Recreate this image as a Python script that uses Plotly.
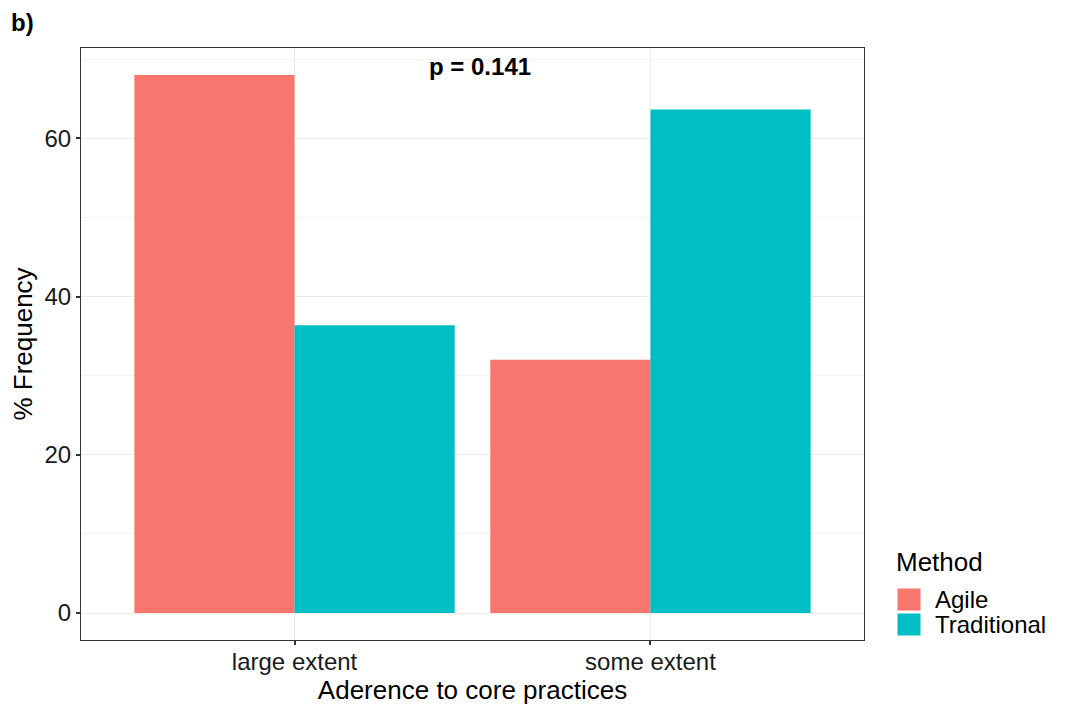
import plotly.graph_objects as go

# Share of respondents (%) per adherence level, by development method
categories = ["large extent", "some extent"]
methods = ["Agile", "Traditional"]
agile_pct = [68.0, 32.0]
traditional_pct = [36.36, 63.64]
colors = {"Agile": "#F8766D", "Traditional": "#00BFC4"}
p_label = "p = 0.141"
y_ticks = [0, 20, 40, 60]

FONT = "Liberation Sans, Arial, sans-serif"

fig = go.Figure()
for name, vals in zip(methods, [agile_pct, traditional_pct]):
    fig.add_trace(go.Bar(
        x=categories, y=vals, name=name,
        marker=dict(color=colors[name], line=dict(width=0)),
        showlegend=False,
    ))

ymax = max(agile_pct + traditional_pct)
pad = 0.05 * ymax

fig.update_layout(
    width=1065, height=706,
    margin=dict(l=81, r=201, t=48, b=66, autoexpand=False),
    paper_bgcolor="white", plot_bgcolor="white",
    barmode="group", bargap=0.1, bargroupgap=0,
    font=dict(family=FONT, color="black"),
    xaxis=dict(
        range=[-0.6, 1.6], automargin=False,
        showgrid=True, gridcolor="#EBEBEB", gridwidth=1,
        ticks="outside", ticklen=4, tickwidth=2, tickcolor="#333333",
        tickfont=dict(size=24, color="#1a1a1a"), ticklabelstandoff=-4,
        title=dict(text="Aderence to core practices", font=dict(size=26), standoff=4),
        showline=True, linecolor="#333333", linewidth=1, mirror=True,
        zeroline=False,
    ),
    yaxis=dict(
        range=[-pad, ymax + pad], automargin=False,
        tickvals=y_ticks,
        showgrid=True, gridcolor="#EBEBEB", gridwidth=1,
        minor=dict(tickvals=[10, 30, 50, 70], showgrid=True, gridcolor="#F4F4F4", gridwidth=1),
        ticks="outside", ticklen=4, tickwidth=2, tickcolor="#333333",
        tickfont=dict(size=24, color="#1a1a1a"),
        title=dict(text="% Frequency", font=dict(size=26), standoff=4),
        showline=True, linecolor="#333333", linewidth=1, mirror=True,
        zeroline=False,
    ),
)

# Panel tag and p-value
fig.add_annotation(text="<b>b)</b>", xref="paper", yref="paper",
                   x=-72 / 783, y=1 + 26 / 592, xanchor="left", yanchor="middle",
                   showarrow=False, font=dict(size=24))
fig.add_annotation(text=f"<b>{p_label}</b>", xref="x", yref="paper",
                   x=0.52, y=1 - 3 / 592, xanchor="center", yanchor="top",
                   showarrow=False, font=dict(size=24))

# Legend drawn beside the panel
lx = 1 + 33 / 783
fig.add_annotation(text="Method", xref="paper", yref="paper",
                   x=lx - 3 / 783, y=(640 - 562) / 592, xanchor="left", yanchor="middle",
                   showarrow=False, font=dict(size=26))
for i, name in enumerate(methods):
    top = 588 + i * 25
    y0 = (640 - (top + 23)) / 592
    y1 = (640 - top) / 592
    fig.add_shape(type="rect", xref="paper", yref="paper",
                  x0=lx, x1=lx + 24 / 783, y0=y0, y1=y1,
                  fillcolor=colors[name], line=dict(width=1, color="white"))
    fig.add_annotation(text=name, xref="paper", yref="paper",
                       x=lx + 36 / 783, y=(y0 + y1) / 2, xanchor="left", yanchor="middle",
                       showarrow=False, font=dict(size=24))

fig.write_html("out.html")
